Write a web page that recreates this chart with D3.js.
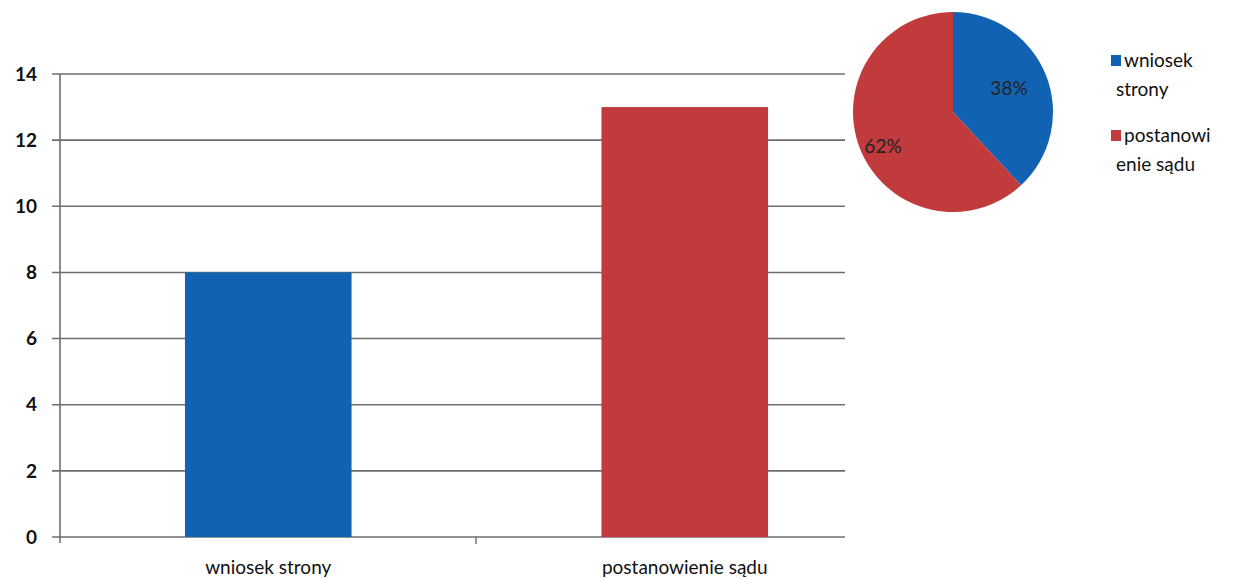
<!DOCTYPE html>
<html><head><meta charset="utf-8">
<script src="https://cdn.jsdelivr.net/npm/d3@7"></script>
<style>body{margin:0;background:#fff}svg{display:block}text{font-family:Lato,"Open Sans",sans-serif}</style>
</head><body>
<svg id="c" width="1248" height="579"></svg>
<script>
const categories = ["wniosek strony", "postanowienie sądu"];
const values = [8, 13];
const colors = ["#1262b3", "#c13a3c"];
const yTicks = [0, 2, 4, 6, 8, 10, 12, 14];
const pieLabels = ["wniosek strony", "postanowienie sądu"];
const pieLegendLines = [["wniosek", "strony"], ["postanowi", "enie sądu"]];
const piePercents = ["38%", "62%"];

const svg = d3.select("#c");
const x = d3.scaleBand().domain(categories).range([60, 893]).paddingInner(0.6).paddingOuter(0.3);
const y = d3.scaleLinear().domain([0, 14]).range([537, 74]);

// gridlines
svg.append("g").selectAll("line").data(yTicks).join("line")
  .attr("x1", 52).attr("x2", 845)
  .attr("y1", d => y(d)).attr("y2", d => y(d))
  .attr("stroke", "#6e6e6e").attr("stroke-width", 1.6);

// y axis line
svg.append("line").attr("x1", 60).attr("x2", 60).attr("y1", y(14)).attr("y2", y(0) + 6)
  .attr("stroke", "#6e6e6e").attr("stroke-width", 1.6);
// x category tick
svg.append("line").attr("x1", 60 + (893 - 60) / 2 - 0.5).attr("x2", 60 + (893 - 60) / 2 - 0.5)
  .attr("y1", y(0)).attr("y2", y(0) + 7).attr("stroke", "#6e6e6e").attr("stroke-width", 1.4);

// y tick labels
svg.append("g").selectAll("text").data(yTicks).join("text")
  .attr("x", 37).attr("y", d => y(d)).attr("dy", "0.35em")
  .attr("text-anchor", "end").attr("font-size", 19).attr("font-weight", "bold").attr("fill", "#111")
  .text(d => d);

// bars
svg.append("g").selectAll("rect").data(values).join("rect")
  .attr("x", (d, i) => x(categories[i])).attr("width", x.bandwidth())
  .attr("y", d => y(d)).attr("height", d => y(0) - y(d))
  .attr("fill", (d, i) => colors[i]);

// category labels
svg.append("g").selectAll("text").data(categories).join("text")
  .attr("x", d => x(d) + x.bandwidth() / 2).attr("y", 574)
  .attr("text-anchor", "middle").attr("font-size", 19).attr("fill", "#111")
  .text(d => d);

// pie
const pg = svg.append("g").attr("transform", "translate(953,112)");
const pie = d3.pie().sort(null).value(d => d);
const arc = d3.arc().innerRadius(0).outerRadius(100);
const arcs = pie(values);
pg.selectAll("path").data(arcs).join("path")
  .attr("d", arc).attr("fill", (d, i) => colors[i]);
const labelPos = [[56, -24], [-70, 34]];
pg.selectAll("text").data(arcs).join("text")
  .attr("x", (d, i) => labelPos[i][0]).attr("y", (d, i) => labelPos[i][1]).attr("dy", "0.35em")
  .attr("text-anchor", "middle").attr("font-size", 19).attr("fill", "#222")
  .text((d, i) => piePercents[i]);

// legend
const lg = svg.append("g");
pieLegendLines.forEach((lines, i) => {
  const top = 52 + i * 75;
  lg.append("rect").attr("x", 1111).attr("y", top + 3).attr("width", 10).attr("height", 11).attr("fill", colors[i]);
  lines.forEach((t, j) => {
    lg.append("text").attr("x", j === 0 ? 1124 : 1116).attr("y", top + 15 + j * 29)
      .attr("font-size", 19).attr("fill", "#111").text(t);
  });
});
</script>
</body></html>
